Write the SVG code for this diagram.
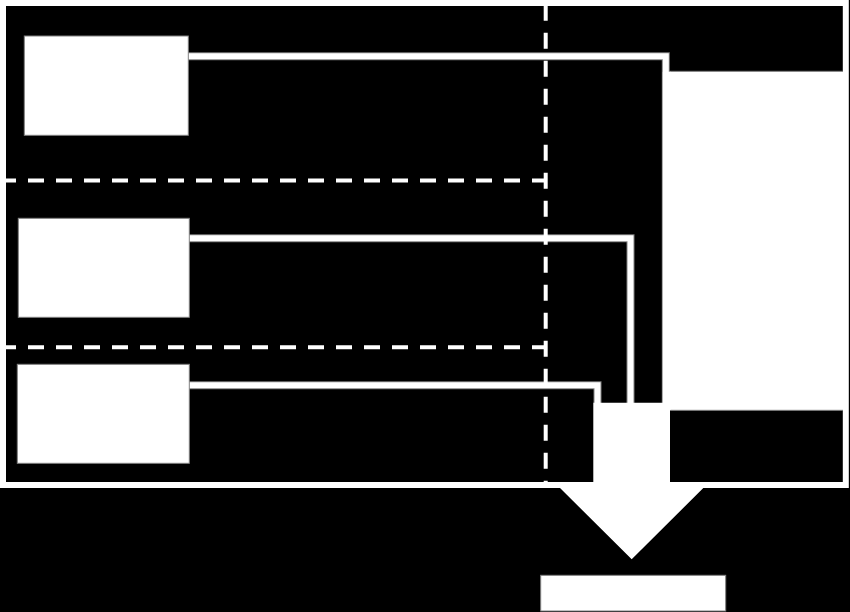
<svg xmlns="http://www.w3.org/2000/svg" width="850" height="612" viewBox="0 0 850 612">
<style>
.box{fill:#fff;stroke:#808080;stroke-width:1}
.dash{stroke:#fff;stroke-width:4;stroke-dasharray:16 12;fill:none}
.edge{fill:none;stroke:#808080;stroke-width:8;stroke-linejoin:miter}
.core{fill:none;stroke:#fff;stroke-width:6;stroke-linejoin:miter}
.rule{stroke:#808080;stroke-width:1}
</style>
<rect x="0" y="0" width="850" height="612" fill="#000"/>
<g id="frame">
<rect x="3" y="3" width="842.8" height="482" fill="none" stroke="#fff" stroke-width="6"/>
</g>
<g id="block">
<rect x="668" y="71.3" width="175.3" height="339" fill="#fff"/>
<line class="rule" x1="670" y1="71.3" x2="843" y2="71.3"/>
<line class="rule" x1="670" y1="410.3" x2="843" y2="410.3"/>
</g>
<g id="connectors">
<path class="edge" d="M188,56.3 H665.8 V403"/>
<path class="edge" d="M189,238.3 H630.5 V403"/>
<path class="edge" d="M189,385.3 H597.5 V403"/>
<path class="core" d="M188,56.3 H665.8 V405"/>
<path class="core" d="M189,238.3 H630.5 V405"/>
<path class="core" d="M189,385.3 H597.5 V405"/>
<rect x="662.8" y="71.8" width="8" height="338" fill="#fff"/>
</g>
<g id="dividers">
<line class="dash" x1="0" y1="180.5" x2="545" y2="180.5"/>
<line class="dash" x1="0" y1="347.3" x2="545" y2="347.3"/>
<line class="dash" x1="545.7" y1="4.7" x2="545.7" y2="485"/>
</g>
<g id="node1"><rect class="box" x="24.3" y="36" width="164" height="99.3"/></g>
<g id="node2"><rect class="box" x="18.3" y="218.3" width="171" height="99"/></g>
<g id="node3"><rect class="box" x="17.3" y="364.3" width="172" height="99"/></g>
<g id="arrow">
<polygon points="593.3,402.7 670,402.7 670,488 703.3,488 631.7,559.3 560,488 593.3,488" fill="#fff"/>
</g>
<g id="result"><rect class="box" x="540.7" y="575.3" width="185" height="35.7"/></g>
</svg>
